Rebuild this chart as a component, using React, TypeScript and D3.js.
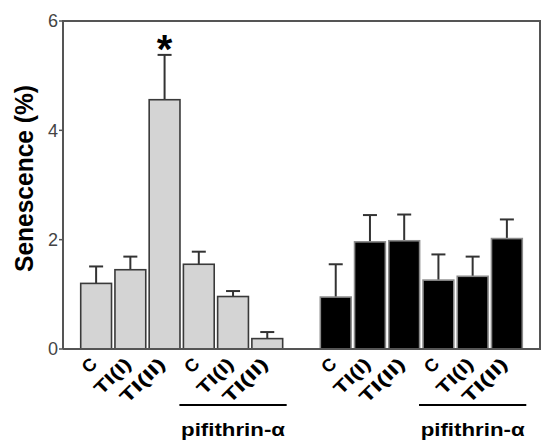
import React from "react";
import * as d3 from "d3";

const labels = ["C", "TI(I)", "TI(II)", "C", "TI(I)", "TI(II)"];
const labelLengths = [13, 44, 56, 13, 44, 56];
const grayValues = [1.2, 1.45, 4.56, 1.55, 0.96, 0.19];
const grayErrors = [0.31, 0.24, 0.82, 0.23, 0.1, 0.12];
const blackValues = [0.95, 1.96, 1.98, 1.26, 1.33, 2.02];
const blackErrors = [0.6, 0.49, 0.48, 0.47, 0.36, 0.35];
const yTicks = [0, 2, 4, 6];
const groupLabel = "pifithrin-α";
const yTitle = "Senescence (%)";

const W = 541;
const H = 442;
const left = 63;
const right = 540;
const top = 21;
const bottom = 349;

export default function App() {
  const y = d3.scaleLinear().domain([0, 6]).range([bottom, top]);
  const slots = d3.range(13);
  const x = d3
    .scaleBand<number>()
    .domain(slots)
    .range([79, 524])
    .paddingInner(0.1)
    .paddingOuter(0.05);

  const bars = [
    ...grayValues.map((v, i) => ({ v, e: grayErrors[i], slot: i, fill: "#d4d4d4", stroke: "#3a3a3a", label: labels[i], len: labelLengths[i] })),
    ...blackValues.map((v, i) => ({ v, e: blackErrors[i], slot: i + 7, fill: "#000", stroke: "#8a8a8a", label: labels[i], len: labelLengths[i] })),
  ];
  const bw = x.bandwidth();
  const font = "Arial, 'Liberation Sans', Helvetica, sans-serif";

  const groups = [
    { from: 3, to: 5 },
    { from: 10, to: 12 },
  ];

  return (
    <svg width={W} height={H} style={{ position: "absolute", left: 0, top: 0, background: "#fff" }} fontFamily={font}>
      {/* bars */}
      {bars.map((b, i) => {
        const x0 = x(b.slot)!;
        const cx = x0 + bw / 2;
        return (
          <g key={i}>
            <line x1={cx} x2={cx} y1={y(b.v)} y2={y(b.v + b.e)} stroke="#333" strokeWidth={2} />
            <line x1={cx - 7} x2={cx + 7} y1={y(b.v + b.e)} y2={y(b.v + b.e)} stroke="#333" strokeWidth={2} />
            <rect x={x0} y={y(b.v)} width={bw} height={bottom - y(b.v)} fill={b.fill} stroke={b.stroke} strokeWidth={1.6} />
            <text
              transform={`translate(${cx + 2},${bottom + 16}) rotate(-45)`}
              textAnchor="end"
              fontSize={18}
              fontWeight="bold"
              textLength={b.len}
              lengthAdjust="spacingAndGlyphs"
              fill="#000"
            >
              {b.label}
            </text>
          </g>
        );
      })}
      {/* frame */}
      <path d={`M${left},${bottom}V${top}H${right}V${bottom}H${left}`} fill="none" stroke="#555" strokeWidth={2} />
      {/* y ticks */}
      {yTicks.map((t) => (
        <g key={t}>
          <line x1={left - 4} x2={left} y1={y(t)} y2={y(t)} stroke="#555" strokeWidth={1.5} />
          <text x={left - 5} y={y(t)} dy="0.36em" textAnchor="end" fontSize={18} fill="#444">
            {t}
          </text>
        </g>
      ))}
      {/* y title */}
      <text
        transform={`translate(33,${(85 + 272) / 2}) rotate(-90)`}
        textAnchor="middle"
        fontSize={26}
        fontWeight="bold"
        textLength={187}
        lengthAdjust="spacingAndGlyphs"
        fill="#000"
      >
        {yTitle}
      </text>
      {/* significance star */}
      <text x={x(2)! + bw / 2} y={63} textAnchor="middle" fontSize={40} fontWeight="bold" fill="#000">
        *
      </text>
      {/* group labels */}
      {groups.map((g, i) => {
        const x1 = x(g.from)! - 4;
        const x2 = x(g.to)! + bw + 4;
        const mid = (x1 + x2) / 2;
        return (
          <g key={i}>
            <line x1={x1} x2={x2} y1={405} y2={405} stroke="#000" strokeWidth={2} />
            <text
              x={mid}
              y={436}
              textAnchor="middle"
              fontSize={18}
              fontWeight="bold"
              textLength={104}
              lengthAdjust="spacingAndGlyphs"
              fill="#000"
            >
              {groupLabel}
            </text>
          </g>
        );
      })}
    </svg>
  );
}
